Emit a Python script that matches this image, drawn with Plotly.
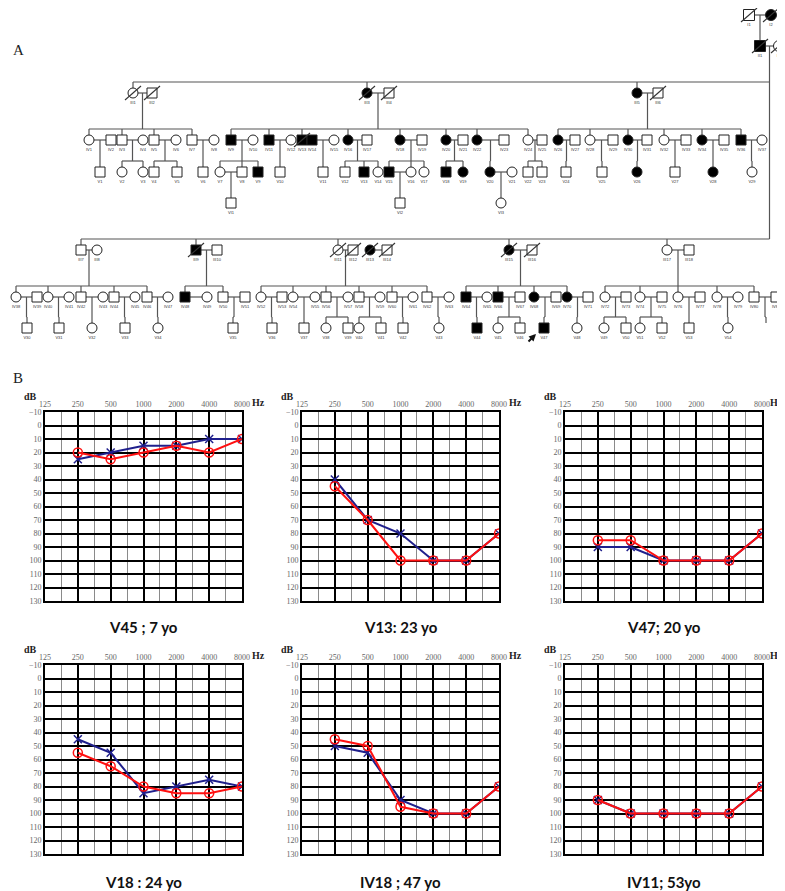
import plotly.graph_objects as go

# Page is photographed at 785x891; the browser body has an 8px margin,
# so the figure itself is 8px smaller and all page positions are offset.
PAGE_W, PAGE_H = 785, 891
OFF = 8
W, H = PAGE_W - OFF, PAGE_H - OFF

# ---------------- Pedigree data (panel A) ----------------
ped_ids = [
    "I1", "I2",
    "II1", "II2",
    "III1", "III2", "III3", "III4", "III5", "III6",
    "IV1", "IV2", "IV3", "IV4", "IV5", "IV6", "IV7", "IV8", "IV9", "IV10",
    "IV11", "IV12", "IV13", "IV14", "IV15", "IV16", "IV17", "IV18", "IV19", "IV20",
    "IV21", "IV22", "IV23", "IV24", "IV25", "IV26", "IV27", "IV28", "IV29", "IV30",
    "IV31", "IV32", "IV33", "IV34", "IV35", "IV36", "IV37",
    "V1", "V2", "V3", "V4", "V5", "V6", "V7", "V8", "V9", "V10",
    "V11", "V12", "V13", "V14", "V15", "V16", "V17", "V18", "V19", "V20",
    "V21", "V22", "V23", "V24", "V25", "V26", "V27", "V28", "V29",
    "VI1", "VI2", "VI3",
    "III7", "III8", "III9", "III10", "III11", "III12", "III13", "III14",
    "III15", "III16", "III17", "III18",
    "IV38", "IV39", "IV40", "IV41", "IV42", "IV43", "IV44", "IV45", "IV46", "IV47",
    "IV48", "IV49", "IV50", "IV51", "IV52", "IV53", "IV54", "IV55", "IV56", "IV57",
    "IV58", "IV59", "IV60", "IV61", "IV62", "IV63", "IV64", "IV65", "IV66", "IV67",
    "IV68", "IV69", "IV70", "IV71", "IV72", "IV73", "IV74", "IV75", "IV76", "IV77",
    "IV78", "IV79", "IV80", "IV81",
    "V30", "V31", "V32", "V33", "V34", "V35", "V36", "V37", "V38", "V39",
    "V40", "V41", "V42", "V43", "V44", "V45", "V46", "V47", "V48", "V49",
    "V50", "V51", "V52", "V53", "V54", "V55",
]
ped_x = [
    749, 771,
    760, 779,
    133, 152, 367, 389, 637, 658,
    89, 111, 122, 143, 154, 176, 192, 214, 231, 253,
    269, 291, 302, 312, 334, 348, 367, 400, 422, 446,
    463, 477, 504, 528, 542, 558, 575, 590, 613, 628,
    647, 664, 686, 702, 724, 741, 762,
    100, 122, 143, 154, 177, 203, 220, 242, 258, 280,
    323, 345, 364, 378, 389, 411, 424, 446, 463, 490,
    512, 528, 542, 566, 602, 637, 675, 713, 752,
    231, 400, 501,
    81, 97, 196, 217, 338, 353, 370, 387,
    509, 532, 667, 689,
    16, 37, 48, 69, 81, 103, 114, 135, 147, 168,
    185, 207, 223, 245, 261, 282, 293, 315, 326, 348,
    359, 380, 392, 413, 427, 449, 466, 487, 498, 520,
    534, 556, 567, 588, 605, 626, 640, 662, 678, 700,
    717, 738, 754, 776,
    27, 59, 92, 125, 158, 233, 272, 304, 326, 348,
    359, 381, 403, 439, 477, 498, 520, 544, 577, 604,
    626, 640, 662, 689, 728, 766,
]
ped_row = (["I"] * 2 + ["II"] * 2 + ["IIIa"] * 6 + ["IVa"] * 37 + ["Va"] * 29
           + ["VIa"] * 3 + ["IIIb"] * 12 + ["IVb"] * 44 + ["Vb"] * 26)
ped_sex = list(
    "mf" "mf" "fmfmfm"
    "fmmfmfmfmf" "mfmmffmfmf" "mfmfmfmfmf" "mfmfmmf"
    "mffmmmfmmm" "mmmfmffmff" "fmmmmfmf"
    "fmm"
    "fmfmmfmf" "mfmf"
    "mfmffmfmfm" "fmfmmfmffm" "fmfmfmfmfm" "mfmfmfmfmf" "mffm"
    "mmmfmfmmmf" "mfmmfmfmmf" "fmfmmf"
)
affected = ["I2", "II1", "III3", "III5", "III9", "III13", "III15",
            "IV9", "IV11", "IV13", "IV14", "IV16", "IV18", "IV20", "IV22",
            "IV26", "IV30", "IV34", "IV36", "IV48", "IV64", "IV66", "IV68", "IV70",
            "V9", "V13", "V15", "V18", "V19", "V20", "V26", "V28", "V44", "V47"]
deceased = ["I1", "I2", "II1", "II2", "III1", "III2", "III3", "III4", "III6",
            "III9", "III11", "III12", "III13", "III14", "III15", "III16", "IV13"]
proband = "V47"
families = [
    ("I1", "I2", ["II1"]),
    ("II1", "II2", ["III1", "III3", "III5", "III7", "III9", "III11", "III15", "III17"]),
    ("III1", "III2", ["IV1", "IV3", "IV5", "IV7"]),
    ("III3", "III4", ["IV9", "IV11", "IV13", "IV16", "IV18", "IV20", "IV22", "IV24"]),
    ("III5", "III6", ["IV26", "IV28", "IV30", "IV32", "IV34", "IV36"]),
    ("IV1", "IV2", ["V1"]), ("IV3", "IV4", ["V2", "V3"]), ("IV5", "IV6", ["V4", "V5"]),
    ("IV7", "IV8", ["V6"]), ("IV9", "IV10", ["V7", "V8", "V9"]), ("IV11", "IV12", ["V10"]),
    ("IV14", "IV15", ["V11"]), ("IV16", "IV17", ["V12", "V13", "V14"]),
    ("IV18", "IV19", ["V15", "V16", "V17"]), ("IV20", "IV21", ["V18", "V19"]),
    ("IV22", "IV23", ["V20"]), ("IV24", "IV25", ["V22", "V23"]), ("IV26", "IV27", ["V24"]),
    ("IV28", "IV29", ["V25"]), ("IV30", "IV31", ["V26"]), ("IV32", "IV33", ["V27"]),
    ("IV34", "IV35", ["V28"]), ("IV36", "IV37", ["V29"]),
    ("V7", "V8", ["VI1"]), ("V15", "V16", ["VI2"]), ("V20", "V21", ["VI3"]),
    ("III7", "III8", ["IV38", "IV40", "IV42", "IV44", "IV46"]),
    ("III9", "III10", ["IV48", "IV50"]),
    ("III11", "III12", ["IV52", "IV54", "IV56", "IV58", "IV60", "IV62"]),
    ("III13", "III14", []),
    ("III15", "III16", ["IV64", "IV66", "IV68", "IV70"]),
    ("III17", "III18", ["IV72", "IV74", "IV76", "IV78", "IV80"]),
    ("IV38", "IV39", ["V30"]), ("IV40", "IV41", ["V31"]), ("IV42", "IV43", ["V32"]),
    ("IV44", "IV45", ["V33"]), ("IV46", "IV47", ["V34"]), ("IV48", "IV49", []),
    ("IV50", "IV51", ["V35"]), ("IV52", "IV53", ["V36"]), ("IV54", "IV55", ["V37"]),
    ("IV56", "IV57", ["V38", "V39"]), ("IV58", "IV59", ["V40", "V41"]),
    ("IV60", "IV61", ["V42"]), ("IV62", "IV63", ["V43"]), ("IV64", "IV65", ["V44"]),
    ("IV66", "IV67", ["V45", "V46"]), ("IV68", "IV69", ["V47"]), ("IV70", "IV71", ["V48"]),
    ("IV72", "IV73", ["V49", "V50"]), ("IV74", "IV75", ["V51", "V52"]),
    ("IV76", "IV77", ["V53"]), ("IV78", "IV79", ["V54"]), ("IV80", "IV81", ["V55"]),
]
row_y = {"I": 15, "II": 46, "IIIa": 93, "IVa": 140, "Va": 172, "VIa": 203,
         "IIIb": 250, "IVb": 297, "Vb": 328}

# ---------------- Audiogram data (panel B) ----------------
freqs = ["125", "250", "500", "1000", "2000", "4000", "8000"]
test_freqs = [250, 500, 1000, 2000, 4000, 8000]
db_ticks = list(range(-10, 131, 10))
patients = ["V45 ; 7 yo", "V13: 23 yo", "V47; 20 yo", "V18 : 24 yo", "IV18 ; 47 yo", "IV11; 53yo"]
left_ear = [  # blue "x"
    [25, 20, 15, 15, 10, 10],
    [40, 70, 80, 100, 100, 80],
    [90, 90, 100, 100, 100, 80],
    [45, 55, 85, 80, 75, 80],
    [50, 55, 90, 100, 100, 80],
    [90, 100, 100, 100, 100, 80],
]
right_ear = [  # red "o"
    [20, 25, 20, 15, 20, 10],
    [45, 70, 100, 100, 100, 80],
    [85, 85, 100, 100, 100, 80],
    [55, 65, 80, 85, 85, 80],
    [45, 50, 95, 100, 100, 80],
    [90, 100, 100, 100, 100, 80],
]


def pxx(px):  # page pixel -> paper x
    return (px - OFF) / W


def pyy(py):  # page pixel -> paper y
    return 1 - (py - OFF) / H


# ---------------- Build figure ----------------
fig = go.Figure()
pos = {}
for pid, x, r in zip(ped_ids, ped_x, ped_row):
    pos[pid] = (x, row_y[r])

HALF = 5
lx, ly = [], []


def seg(x0, y0, x1, y1):
    lx.extend([x0, x1, None])
    ly.extend([y0, y1, None])


for fa, mo, kids in families:
    (x1, y1), (x2, y2) = pos[fa], pos[mo]
    seg(x1, y1, x2, y2)
    if not kids:
        continue
    mx = (x1 + x2) / 2
    rows = {}
    for k in kids:
        kx, ky = pos[k]
        rows.setdefault(ky, []).append(kx)
    lowest = y1
    for ky, xs in rows.items():
        bary = ky - 11
        seg(min(xs + [mx]), bary, max(xs + [mx]), bary)
        for kx in xs:
            seg(kx, bary, kx, ky - HALF)
        lowest = max(lowest, bary)
    seg(mx, y1, mx, lowest)

fig.add_trace(go.Scatter(x=lx, y=ly, mode="lines", line=dict(color="#555555", width=1.2),
                         hoverinfo="skip", xaxis="x", yaxis="y"))

mx_, my_, msym, mfill, mtxt = [], [], [], [], []
for pid, sex in zip(ped_ids, ped_sex):
    x, y = pos[pid]
    mx_.append(x)
    my_.append(y)
    msym.append("square" if sex == "m" else "circle")
    mfill.append("#000000" if pid in affected else "#ffffff")
    mtxt.append(pid)
big = ["I1", "I2", "II1", "II2"]
msize = [11 if p in big else 10 for p in ped_ids]
fig.add_trace(go.Scatter(x=mx_, y=my_, mode="markers",
                         marker=dict(symbol=msym, size=msize, color=mfill, opacity=1,
                                     line=dict(color="#222222", width=1)),
                         hoverinfo="text", text=mtxt, xaxis="x", yaxis="y"))
fig.add_trace(go.Scatter(x=mx_, y=[v + 10 for v in my_], mode="text", text=mtxt,
                         textfont=dict(size=4, color="#333333", family="Liberation Sans"),
                         hoverinfo="skip", xaxis="x", yaxis="y"))

sx, sy = [], []
for pid in deceased:
    x, y = pos[pid]
    sx.extend([x - 8, x + 8, None])
    sy.extend([y + 7, y - 7, None])
fig.add_trace(go.Scatter(x=sx, y=sy, mode="lines", line=dict(color="#333333", width=1.1),
                         hoverinfo="skip", xaxis="x", yaxis="y"))

px_, py_ = pos[proband]
annotations = [
    dict(x=px_ - 8, y=py_ + 6, xref="x", yref="y", ax=-9, ay=9, showarrow=True,
         arrowhead=2, arrowsize=0.7, arrowwidth=2, arrowcolor="#111", text=""),
    dict(x=pxx(18), y=pyy(50), xref="paper", yref="paper", text="A", showarrow=False,
         xanchor="center", yanchor="middle",
         font=dict(family="Liberation Serif", size=15, color="#222")),
    dict(x=pxx(18), y=pyy(378), xref="paper", yref="paper", text="B", showarrow=False,
         xanchor="center", yanchor="middle",
         font=dict(family="Liberation Serif", size=15, color="#222")),
]

layout = dict(
    width=W, height=H, margin=dict(l=0, r=0, t=0, b=0, pad=0, autoexpand=False),
    paper_bgcolor="white", plot_bgcolor="rgba(0,0,0,0)", showlegend=False,
    xaxis=dict(domain=[0, 1], range=[OFF, OFF + W], visible=False, fixedrange=True),
    yaxis=dict(domain=[0, 1], range=[OFF + H, OFF], visible=False, fixedrange=True),
)

col_left = [45, 302, 565]
hz_gap = [9, 9, 7]
row_top = [412, 665]
GW, GH = 197, 189
title_y = [627, 882]
tickfont = dict(family="Liberation Serif", size=8, color="#666666")

for i, name in enumerate(patients):
    r, c = divmod(i, 3)
    L, T = col_left[c], row_top[r]
    xa, ya = f"xaxis{i + 2}", f"yaxis{i + 2}"
    xr, yr = f"x{i + 2}", f"y{i + 2}"
    layout[xa] = dict(
        domain=[pxx(L), pxx(L + GW)], range=[0, 6], anchor=yr, side="top",
        tickvals=list(range(7)), ticktext=freqs, tickfont=tickfont, ticks="",
        showgrid=True, gridcolor="#000000", gridwidth=2,
        minor=dict(tickvals=[0.5 + k for k in range(6)], showgrid=True,
                   gridcolor="#8a8a8a", gridwidth=1),
        showline=True, mirror=True, linecolor="#000000", linewidth=2,
        zeroline=False, fixedrange=True,
    )
    layout[ya] = dict(
        domain=[pyy(T + GH), pyy(T)], range=[130, -10], anchor=xr,
        tickvals=db_ticks, tickfont=tickfont, ticks="",
        showgrid=True, gridcolor="#000000", gridwidth=1.5,
        showline=True, mirror=True, linecolor="#000000", linewidth=2,
        zeroline=False, fixedrange=True,
    )
    xs = [test_freqs.index(f) + 1 for f in test_freqs]
    fig.add_trace(go.Scatter(x=xs, y=left_ear[i], mode="lines+markers", xaxis=xr, yaxis=yr,
                             line=dict(color="#1f1f8c", width=2),
                             marker=dict(symbol="x-thin", size=8,
                                         line=dict(color="#1f1f8c", width=1.5)),
                             name="Left"))
    fig.add_trace(go.Scatter(x=xs, y=right_ear[i], mode="lines+markers", xaxis=xr, yaxis=yr,
                             line=dict(color="#ff1010", width=2),
                             marker=dict(symbol="circle-open", size=9, color="#ff1010",
                                         line=dict(width=1.5)),
                             name="Right"))
    annotations.append(dict(x=pxx(L - 6), y=pyy(T - 16), xref="paper", yref="paper",
                            xanchor="right", yanchor="middle", text="<b>dB</b>", showarrow=False,
                            font=dict(family="Liberation Serif", size=10, color="#222")))
    annotations.append(dict(x=pxx(L + GW + hz_gap[c]), y=pyy(T - 10), xref="paper", yref="paper",
                            xanchor="left", yanchor="middle", text="<b>Hz</b>", showarrow=False,
                            borderpad=0,
                            font=dict(family="Liberation Serif", size=10, color="#222")))
    annotations.append(dict(x=pxx(L + GW / 2), y=pyy(title_y[r]), xref="paper", yref="paper",
                            xanchor="center", yanchor="middle",
                            text=f"<b>{name}</b>", showarrow=False,
                            font=dict(family="Lato", size=15, color="#111")))

layout["annotations"] = annotations
fig.update_layout(**layout)
fig.write_html("out.html")
